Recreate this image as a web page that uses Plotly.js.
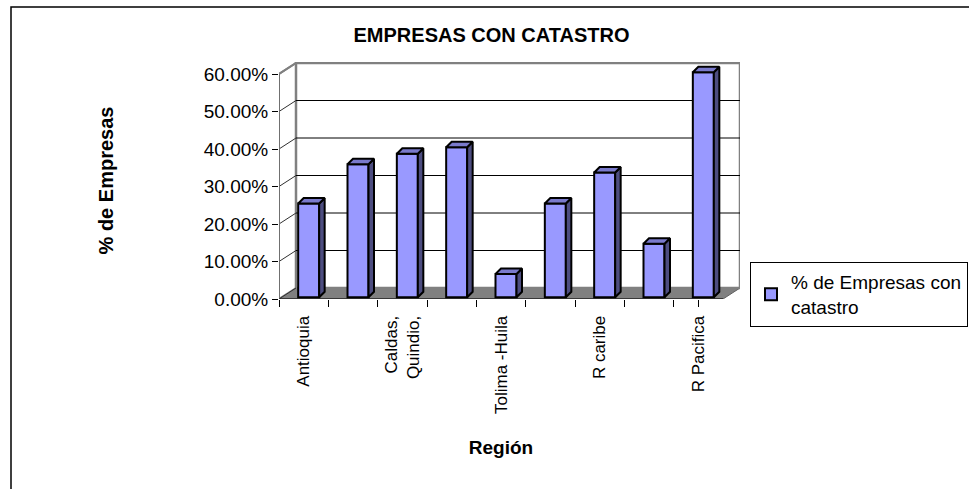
<!DOCTYPE html>
<html>
<head>
<meta charset="utf-8">
<script src="https://cdn.plot.ly/plotly-3.0.1.min.js"></script>
<style>
  html, body { margin: 0; padding: 0; background: #ffffff; }
  #chart { width: 969px; height: 489px; }
</style>
</head>
<body>
<div id="chart"></div>
<script>
// ---- data ----
const regionIndex = [0, 1, 2, 3, 4, 5, 6, 7, 8];
const tickLabels = ['Antioquia', '', 'Caldas,<br>Quindio,', '', 'Tolima -Huila', '', 'R caribe', '', 'R Pacifica'];
const values = [0.25, 0.355, 0.383, 0.40, 0.062, 0.25, 0.333, 0.143, 0.60];
const yTicks = [0, 0.1, 0.2, 0.3, 0.4, 0.5, 0.6];
const seriesName = '% de Empresas con<br>catastro';

// ---- geometry (pixels of the plot frame) ----
const W = 969, H = 489;
const L = 279, T = 62, R = 740, B = 299;      // plot area incl. depth
const FRONT_W = 444;                             // width of front plane
const PX_CAT = FRONT_W / regionIndex.length;    // px per category
const PX_UNIT = 225 / 0.6;                       // px per 1.0 (100%)
const DX = 17 / PX_CAT, DY = 11 / PX_UNIT;        // wall depth
const FX = 5 / PX_CAT, BW = 21 / PX_CAT, BASE = 1.7 / PX_UNIT;
const SDX = 5.5 / PX_CAT, SDY = 5.5 / PX_UNIT;  // bar depth
const x0 = -0.5, x1 = regionIndex.length - 0.5;
const xRange = [x0, x0 + (R - L) / PX_CAT];
const yRange = [0, (B - T) / PX_UNIT];
const yMax = yTicks[yTicks.length - 1];
const FONT = 'Liberation Sans, Arial, sans-serif';

const FRONT = '#9999FF', SIDE = '#4D4D80', TOP = '#7A7ACC';

// ---- shapes: walls, floor, gridlines ----
const shapes = [];
// floor
shapes.push({type: 'path', xref: 'x', yref: 'y', layer: 'below',
  path: `M${x0},0 L${x1},0 L${x1 + DX},${DY} L${x0 + DX},${DY} Z`,
  fillcolor: '#808080', line: {color: '#606060', width: 1}});
// left wall
shapes.push({type: 'path', xref: 'x', yref: 'y', layer: 'below',
  path: `M${x0},0 L${x0 + DX},${DY} L${x0 + DX},${yMax + DY} L${x0},${yMax} Z`,
  fillcolor: '#ffffff', line: {color: '#808080', width: 2}});
// back wall
shapes.push({type: 'rect', xref: 'x', yref: 'y', layer: 'below',
  x0: x0 + DX, x1: x1 + DX, y0: DY, y1: yMax + DY,
  fillcolor: '#ffffff', line: {color: '#808080', width: 2.5}});
// gridlines
yTicks.forEach(v => {
  if (v > 0 && v < yMax) {
    shapes.push({type: 'line', xref: 'x', yref: 'y', layer: 'below',
      x0: x0 + DX, x1: x1 + DX, y0: v + DY, y1: v + DY,
      line: {color: '#000000', width: 1}});
  }
  shapes.push({type: 'line', xref: 'x', yref: 'y', layer: 'below',
    x0: x0, x1: x0 + DX, y0: v, y1: v + DY,
    line: {color: v === yMax ? '#808080' : '#303030', width: v === yMax ? 2 : 1}});
});
// front y axis line
shapes.push({type: 'line', xref: 'x', yref: 'y', layer: 'below',
  x0: x0, x1: x0, y0: 0, y1: yMax, line: {color: '#707070', width: 2}});
// front x axis line
shapes.push({type: 'line', xref: 'x', yref: 'y', layer: 'above',
  x0: x0, x1: x1, y0: 0, y1: 0, line: {color: '#000000', width: 1}});
// outer chart border
const px = p => (p - L) / (R - L), py = p => (B - p) / (B - T);
shapes.push({type: 'rect', xref: 'paper', yref: 'paper', layer: 'above',
  x0: px(11), x1: px(W + 10), y0: py(7), y1: py(H + 10),
  fillcolor: 'rgba(0,0,0,0)', line: {color: '#000000', width: 1.5}});

// ---- traces ----
const traces = [];
// front faces
traces.push({type: 'bar', name: seriesName, x: regionIndex, y: values,
  base: BASE, width: BW, offset: FX - BW / 2,
  marker: {color: FRONT, line: {color: '#000000', width: 2}},
  showlegend: true});
// side & top faces
regionIndex.forEach((i, k) => {
  const v = values[k];
  const xl = i + FX - BW / 2, xr = i + FX + BW / 2;
  const top = BASE + v;
  traces.push({type: 'scatter', mode: 'lines', fill: 'toself', fillcolor: SIDE,
    x: [xr, xr + SDX, xr + SDX, xr, xr], y: [BASE, BASE + SDY, top + SDY, top, BASE],
    line: {color: '#000000', width: 2}, showlegend: false, hoverinfo: 'skip'});
  traces.push({type: 'scatter', mode: 'lines', fill: 'toself', fillcolor: TOP,
    x: [xl, xl + SDX, xr + SDX, xr, xl], y: [top, top + SDY, top + SDY, top, top],
    line: {color: '#000000', width: 2}, showlegend: false, hoverinfo: 'skip'});
});
// invisible trace so the boundary-tick axis (x2) is drawn
traces.push({type: 'scatter', mode: 'markers', x: [x0], y: [0], xaxis: 'x2', yaxis: 'y',
  marker: {opacity: 0}, showlegend: false, hoverinfo: 'skip'});

const layout = {
  width: W, height: H,
  margin: {l: L, r: W - R, t: T, b: H - B, pad: 0, autoexpand: false},
  paper_bgcolor: '#ffffff', plot_bgcolor: 'rgba(0,0,0,0)',
  font: {family: FONT, color: '#000000', size: 18},
  title: {text: '<b>EMPRESAS CON CATASTRO</b>', font: {family: FONT, size: 20, color: '#000000'},
    x: 491.5 / W, xref: 'container', xanchor: 'center', y: 1 - 35 / H, yref: 'container', yanchor: 'middle'},
  xaxis: {range: xRange, tickmode: 'array', tickvals: regionIndex, ticktext: tickLabels,
    tickangle: -90, ticks: 'outside', ticklen: 9, tickcolor: 'rgba(0,0,0,0)',
    tickfont: {family: FONT, size: 17, color: '#000000'}, automargin: false,
    showgrid: false, zeroline: false, showline: false, fixedrange: true},
  xaxis2: {domain: [0, FRONT_W / (R - L)], range: [x0, x1], anchor: 'y',
    tickmode: 'array', tickvals: regionIndex.concat([x1]).map(i => i - 0.5),
    ticks: 'outside', ticklen: 7, tickcolor: '#000000', tickwidth: 1, automargin: false,
    showticklabels: false, showgrid: false, zeroline: false, showline: false,
    title: {text: '<b>Región</b>', font: {family: FONT, size: 19, color: '#000000'}, standoff: 134}},
  yaxis: {range: yRange, tickmode: 'array', tickvals: yTicks, tickformat: '.2%',
    ticks: 'outside', ticklen: 6, tickcolor: '#000000', tickwidth: 1, automargin: false,
    tickfont: {family: FONT, size: 19, color: '#000000'},
    showgrid: false, zeroline: false, showline: false, fixedrange: true,
    title: {text: '<b>% de Empresas</b>', font: {family: FONT, size: 20, color: '#000000'}, standoff: 84}},
  showlegend: true,
  legend: {x: px(750), y: py(262), xanchor: 'left', yanchor: 'top',
    bordercolor: '#000000', borderwidth: 1, bgcolor: '#ffffff',
    font: {family: FONT, size: 19, color: '#000000'}},
  shapes: shapes,
  bargap: 0
};

Plotly.newPlot('chart', traces, layout, {staticPlot: true, displayModeBar: false});
</script>
</body>
</html>
